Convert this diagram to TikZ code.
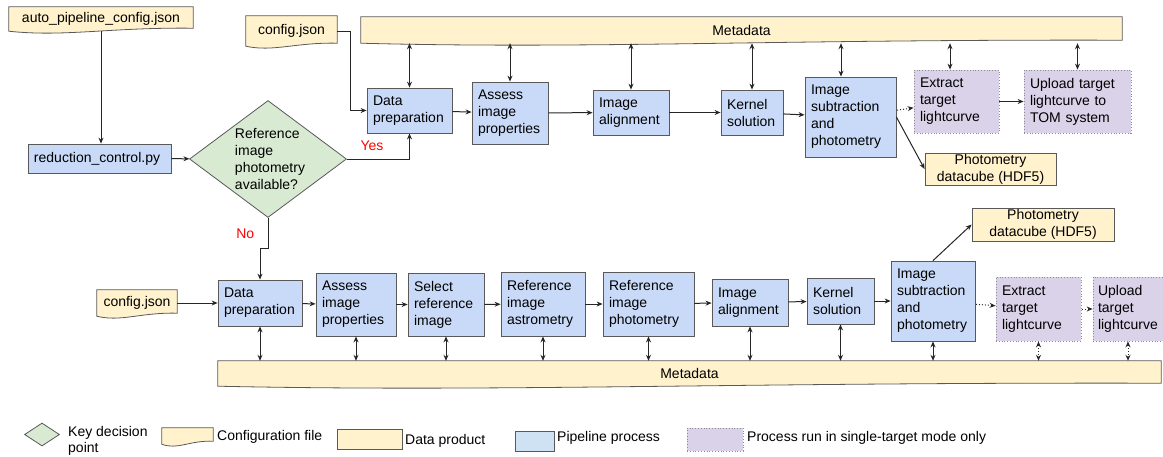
\documentclass[tikz,border=0pt]{standalone}
\usepackage{fontspec}
\setmainfont{Liberation Sans}
\usepackage{tikz}
\usetikzlibrary{arrows.meta,shapes.geometric,backgrounds,calc}

\definecolor{procblue}{HTML}{C9DAF8}
\definecolor{legblue}{HTML}{CFE2F3}
\definecolor{cfgyellow}{HTML}{FFF2CC}
\definecolor{decgreen}{HTML}{D9EAD3}
\definecolor{singlepurple}{HTML}{D9D2E9}
\definecolor{edgegray}{HTML}{595959}

\tikzset{
  every node/.style={font=\fontsize{14}{17}\selectfont},
  >={Stealth[length=6pt,width=5pt]},
  proc/.style={draw=edgegray, line width=0.8pt, fill=procblue, inner xsep=6pt, inner ysep=0pt, align=left},
  single/.style={proc, fill=singlepurple, draw=black!45, dotted},
  product/.style={draw=edgegray, line width=0.8pt, fill=cfgyellow, inner sep=0pt, align=center},
  cfg/.style={inner sep=0pt, align=center},
  decision/.style={diamond, draw=edgegray, line width=0.8pt, fill=decgreen, inner sep=0pt},
  conn/.style={draw=black!85, line width=1pt},
  opt/.style={conn, dotted},
  answer/.style={text=red},
  doc/.style={draw=edgegray, line width=0.8pt, fill=cfgyellow},
  legtext/.style={anchor=west, inner sep=0pt, align=left}
}

% document shape with a wavy bottom edge
\newcommand\docshape[1]{%
  \path[doc] (#1.north west) -- (#1.north east) -- ([yshift=3pt]#1.south east)
    .. controls ($(#1.south east)!0.45!(#1.south west)+(0,4pt)$) and ($(#1.south east)!0.7!(#1.south west)+(0,-6pt)$) .. (#1.south west) -- cycle;}

\begin{document}
\begin{tikzpicture}[x=1pt,y=-1pt]
  \useasboundingbox (0,0) rectangle (1163,456);

  % single-target branch
  \node [cfg, minimum width=184, minimum height=24] (apc) at (101,19) {auto\_pipeline\_config.json};
  \node [proc, minimum height=29, text width=131pt] (rc) at (99.5,158.5) {reduction\_control.py};
  \node [decision, minimum width=157, minimum height=117] (dec) at (268,159) {};
  \node [align=left, inner sep=0pt] (dectext) at (270,158.5) {Reference\\image\\photometry\\available?};

  \node [cfg, minimum width=91, minimum height=30] (cfg1) at (291.5,31) {config.json};
  \node [cfg, minimum width=761, minimum height=26] (meta1) at (741.5,30) {Metadata};
  \node [proc, minimum height=45, text width=73pt] (dp1) at (409.5,110.5) {Data\\preparation};
  \node [proc, minimum height=62, text width=64pt] (ai1) at (510,113) {Assess\\image\\properties}
    edge [conn, <-] (dp1);
  \node [proc, minimum height=45, text width=64pt] (al1) at (631,112.5) {Image\\alignment}
    edge [conn, <-] (ai1);
  \node [proc, minimum height=45, text width=50pt] (ks1) at (752,112.5) {Kernel\\solution}
    edge [conn, <-] (al1);
  \node [proc, minimum height=80, text width=79pt] (is1) at (850.5,117) {Image\\subtraction\\and\\photometry}
    edge [conn, <-] (ks1);
  \node [single, minimum height=63, text width=73pt] (et1) at (956.5,101.5) {Extract\\target\\lightcurve}
    edge [opt, <-] (is1);
  \node [single, minimum height=63, text width=95pt] (ut1) at (1077.5,101.5) {Upload target\\lightcurve to\\TOM system}
    edge [conn, <-] (et1);
  \node [product, minimum width=131, minimum height=32] (pd1) at (990.5,169) {Photometry\\datacube (HDF5)};

  % reference image branch
  \node [cfg, minimum width=80, minimum height=26] (cfg2) at (137,303) {config.json};
  \node [proc, minimum height=46, text width=72pt] (dp2) at (260,303) {Data\\preparation}
    edge [conn, <-] (cfg2);
  \node [proc, minimum height=63, text width=68pt] (ai2) at (356,304.5) {Assess\\image\\properties}
    edge [conn, <-] (dp2);
  \node [proc, minimum height=63, text width=64pt] (sr2) at (446,304.5) {Select\\reference\\image}
    edge [conn, <-] (ai2);
  \node [proc, minimum height=64, text width=72pt] (ra2) at (543,304) {Reference\\image\\astrometry}
    edge [conn, <-] (sr2);
  \node [proc, minimum height=64, text width=79pt] (rp2) at (648.5,304) {Reference\\image\\photometry}
    edge [conn, <-] (ra2);
  \node [proc, minimum height=47, text width=64pt] (al2) at (750,302.5) {Image\\alignment}
    edge [conn, <-] (rp2);
  \node [proc, minimum height=46, text width=55pt] (ks2) at (840.5,301) {Kernel\\solution}
    edge [conn, <-] (al2);
  \node [proc, minimum height=80, text width=72pt] (is2) at (933,301) {Image\\subtraction\\and\\photometry}
    edge [conn, <-] (ks2);
  \node [single, minimum height=64, text width=73pt] (et2) at (1038.5,309) {Extract\\target\\lightcurve}
    edge [opt, <-] (is2);
  \node [single, minimum height=64, inner xsep=5pt, text width=60pt] (ut2) at (1128,309) {Upload\\target\\lightcurve}
    edge [opt, <-] (et2);
  \node [product, minimum width=142, minimum height=33] (pd2) at (1043,224.5) {Photometry\\datacube (HDF5)};
  \node [cfg, minimum width=943, minimum height=25] (meta2) at (689.5,373.5) {Metadata};

  % legend
  \node [decision, minimum width=35, minimum height=23] (lkey) at (42,434.5) {};
  \node [legtext, font=\fontsize{14}{16}\selectfont] (lkeytext) at (68,441) {Key decision\\point};
  \node [cfg, minimum width=51, minimum height=16] (lcfg) at (187.5,436) {};
  \node [legtext] (lcfgtext) at (217,437) {Configuration file};
  \node [product, minimum width=65, minimum height=20] (lprod) at (369.5,439) {};
  \node [legtext] (lprodtext) at (405,441) {Data product};
  \node [proc, fill=legblue, minimum width=39, minimum height=20, inner sep=0pt] (lproc) at (534.5,441) {};
  \node [legtext] (lproctext) at (557,438) {Pipeline process};
  \node [single, minimum width=56, minimum height=23, inner sep=0pt] (lsingle) at (715,439.5) {};
  \node [legtext] (lsingletext) at (747,438) {Process run in single-target mode only};

  \begin{scope}[on background layer]
    \docshape{apc}
    \docshape{cfg1}
    \docshape{cfg2}
    \docshape{meta1}
    \docshape{meta2}
    \docshape{lcfg}
  \end{scope}

  % connectors
  \draw [conn, ->] (apc.south) -- (apc.south |- rc.north);
  \path (rc) edge [conn, ->] (dec);
  \coordinate (jog) at (350,31);
  \draw [conn, ->] (cfg1.east) -- (jog) |- (dp1.west);
  \draw [conn, ->] (dec.east) -| node [answer, pos=0.2, above=5pt] {Yes} (dp1.south);
  \draw [conn, ->] (dec.south) -- node [answer, midway, left=10pt] {No} ++(0,31) -- ++(-8,0) -- (dp2.north);
  \draw [conn, ->] (is1.east) -- (pd1.west);
  \draw [conn, ->] (is2.north) -- (pd2.west);

  % metadata links, top
  \draw [conn, <->] (dp1.north |- meta1.south) -- (dp1.north);
  \draw [conn, <->] (ai1.north |- meta1.south) -- (ai1.north);
  \draw [conn, <->] (al1.north |- meta1.south) -- (al1.north);
  \draw [conn, <->] (ks1.north |- meta1.south) -- (ks1.north);
  \draw [conn, <->] ([xshift=-9.5pt]is1.north |- meta1.south) -- ([xshift=-9.5pt]is1.north);
  \draw [conn, <->] ([xshift=-6.5pt]et1.north |- meta1.south) -- ([xshift=-6.5pt]et1.north);
  \draw [conn, <->] (ut1.north |- meta1.south) -- (ut1.north);

  % metadata links, bottom
  \draw [conn, <->] (dp2.south) -- (dp2.south |- meta2.north);
  \draw [conn, <->] (ai2.south) -- (ai2.south |- meta2.north);
  \draw [conn, <->] (sr2.south) -- (sr2.south |- meta2.north);
  \draw [conn, <->] (ra2.south) -- (ra2.south |- meta2.north);
  \draw [conn, <->] (rp2.south) -- (rp2.south |- meta2.north);
  \draw [conn, <->] (al2.south) -- (al2.south |- meta2.north);
  \draw [conn, <->] (ks2.south) -- (ks2.south |- meta2.north);
  \draw [conn, <->] (is2.south) -- (is2.south |- meta2.north);
  \draw [opt, <->] (et2.south) -- (et2.south |- meta2.north);
  \draw [opt, <->] (ut2.south) -- (ut2.south |- meta2.north);
\end{tikzpicture}
\end{document}
